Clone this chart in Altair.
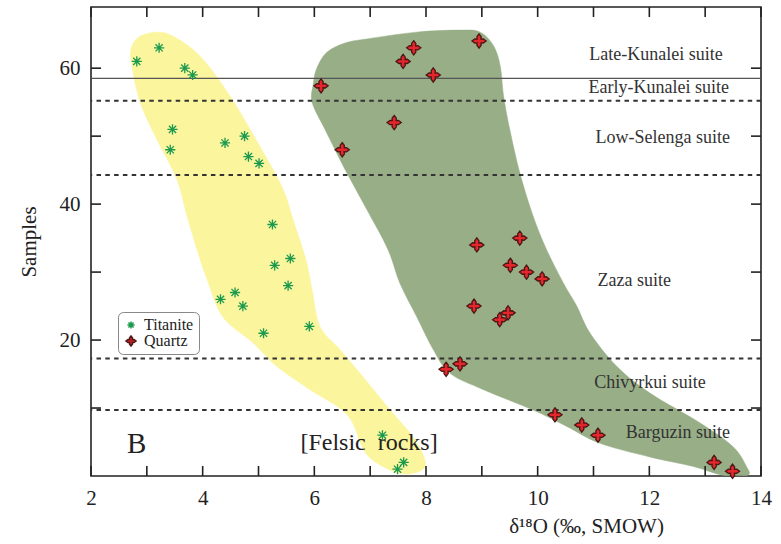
import altair as alt
import pandas as pd

# ---------------- data ----------------
titanite_x = [2.82, 3.22, 3.68, 3.82, 3.46, 3.42, 4.40, 4.75, 4.82, 5.01, 5.25,
              5.57, 5.29, 5.53, 4.32, 4.58, 4.72, 5.09, 5.91, 7.22, 7.60, 7.49]
titanite_y = [61, 63, 60, 59, 51, 48, 49, 50, 47, 46, 37,
              32, 31, 28, 26, 27, 25, 21, 22, 6, 2, 1]

quartz_x = [8.95, 7.78, 7.59, 8.13, 6.12, 7.43, 6.50, 9.68, 8.91, 9.51, 9.80,
            10.08, 8.86, 9.47, 9.32, 8.61, 8.36, 10.31, 10.79, 11.08, 13.16, 13.49]
quartz_y = [64, 63, 61, 59, 57.4, 52, 48, 35, 34, 31, 30,
            29, 25, 24, 23, 16.5, 15.7, 9, 7.5, 6, 2, 0.7]

# envelope outlines (data units, traced around each field)
yellow_x = [3.18, 3.47, 3.95, 4.49, 5.08, 5.44, 5.62, 5.85, 5.96, 6.10, 6.46, 6.91,
            7.36, 7.77, 7.98, 7.93, 7.62, 7.27, 6.91, 6.59, 5.92, 5.33, 4.90, 4.36,
            4.08, 3.90, 3.72, 3.54, 3.18, 2.88, 2.72, 2.73, 2.88]
yellow_y = [65.3, 64.7, 61.8, 55.9, 47.7, 42.2, 37.7, 31.8, 27.4, 22.0, 18.6, 14.2,
            9.7, 5.7, 2.4, 0.9, 0.3, 1.2, 3.5, 9.0, 12.7, 16.1, 19.6, 23.4,
            28.9, 33.3, 38.2, 43.6, 49.5, 55.0, 60.9, 63.2, 64.7]

green_x = [6.04, 6.22, 6.55, 6.94, 7.83, 8.61, 8.97, 9.21, 9.33, 9.39, 9.50, 9.68,
           9.92, 10.16, 10.46, 10.70, 10.94, 11.42, 12.01, 12.91, 13.50, 13.74, 13.78,
           13.54, 13.27, 12.79, 12.01, 11.12, 10.52, 9.92, 9.03, 8.43, 8.13, 7.83,
           7.53, 7.32, 6.94, 6.55, 6.19, 5.96, 5.98]
green_y = [59.9, 62.3, 63.7, 64.3, 65.3, 65.6, 65.3, 63.3, 60.3, 55.9, 51.0, 44.6,
           38.2, 33.3, 28.4, 25.0, 21.0, 16.1, 12.2, 7.8, 4.3, 1.4, 0.2,
           0.1, 0.2, 1.4, 2.8, 4.8, 7.3, 9.7, 12.7, 15.1, 18.6, 23.5,
           28.4, 33.3, 39.2, 45.1, 51.0, 55.0, 57.6]

solid_bounds = [58.5]
dashed_bounds = [55.2, 44.3, 17.3, 9.7]

suite_names = ["Late-Kunalei suite", "Early-Kunalei suite", "Low-Selenga suite",
               "Zaza suite", "Chivyrkui suite", "Barguzin suite"]
suite_x = [12.12, 12.17, 12.24, 11.73, 12.01, 12.51]
suite_y = [61.9, 57.1, 49.8, 28.7, 13.7, 6.3]

panel_letter = ["B"]
panel_letter_x = [2.82]
panel_letter_y = [4.7]
rock_label = ["[Felsic\u00a0\u00a0rocks]"]
rock_label_x = [6.98]
rock_label_y = [4.9]

x_ticks = list(range(2, 15))
x_labels = [2, 4, 6, 8, 10, 12, 14]
y_ticks = [10, 20, 30, 40, 50, 60]
y_labels = [20, 40, 60]

minerals = ["Titanite", "Quartz"]

# ---------------- layout ----------------
W, H = 670, 469
X0, X1, Y0, Y1 = 2, 14, 0, 69
FONT = "Liberation Serif"
TICK_PX = 10
tick_dx = TICK_PX * (X1 - X0) / W   # inward tick length in x data units
tick_dy = TICK_PX * (Y1 - Y0) / H   # inward tick length in y data units

xscale = alt.Scale(domain=[X0, X1], nice=False, zero=False)
yscale = alt.Scale(domain=[Y0, Y1], nice=False, zero=False)

pts = pd.DataFrame({
    "x": titanite_x + quartz_x,
    "y": titanite_y + quartz_y,
    "Mineral": ["Titanite"] * len(titanite_x) + ["Quartz"] * len(quartz_x),
})
yel = pd.DataFrame({"x": yellow_x, "y": yellow_y, "o": range(len(yellow_x))})
grn = pd.DataFrame({"x": green_x, "y": green_y, "o": range(len(green_x))})

x_enc = alt.X("x:Q", scale=xscale,
              axis=alt.Axis(values=x_labels, format="d", labelFlush=False,
                            title="δ¹⁸O (‰, SMOW)",
                            titleX=495, titleY=50, titleBaseline="middle"))
y_enc = alt.Y("y:Q", scale=yscale,
              axis=alt.Axis(values=y_labels, format="d", labelFlush=False,
                            title="Samples", titlePadding=20))

yellow_layer = alt.Chart(yel).mark_line(
    interpolate="cardinal-closed", fill="#FBF59D", stroke="#FBF59D", strokeWidth=0.5
).encode(x=x_enc, y=y_enc, order="o:Q")

green_layer = alt.Chart(grn).mark_line(
    interpolate="cardinal-closed", fill="#97AE86", stroke="#97AE86", strokeWidth=0.5
).encode(x="x:Q", y="y:Q", order="o:Q")

solid_layer = alt.Chart(pd.DataFrame({"y": solid_bounds})).mark_rule(
    color="#555", strokeWidth=1.4
).encode(y="y:Q")

dashed_layer = alt.Chart(pd.DataFrame({"y": dashed_bounds})).mark_rule(
    color="#333", strokeWidth=2, strokeDash=[4.5, 4.3]
).encode(y="y:Q")

suite_layer = alt.Chart(pd.DataFrame({"t": suite_names, "x": suite_x, "y": suite_y})).mark_text(
    font=FONT, fontSize=18, color="#333", align="center", baseline="middle"
).encode(x="x:Q", y="y:Q", text="t:N")

letter_layer = alt.Chart(pd.DataFrame({"t": panel_letter, "x": panel_letter_x,
                                       "y": panel_letter_y})).mark_text(
    font=FONT, fontSize=29, color="#222", align="center", baseline="middle"
).encode(x="x:Q", y="y:Q", text="t:N")

rock_layer = alt.Chart(pd.DataFrame({"t": rock_label, "x": rock_label_x,
                                     "y": rock_label_y})).mark_text(
    font=FONT, fontSize=24, color="#222", align="center", baseline="middle"
).encode(x="x:Q", y="y:Q", text="t:N")

# marker glyphs (asterisk drawn smaller inside the unit box than the cross)
asterisk = ("M-0.72,0L0.72,0M0,-0.72L0,0.72M-0.51,-0.51L0.51,0.51"
            "M-0.51,0.51L0.51,-0.51")
cross = ("M0,-1L0.3,-0.6L0.27,-0.27L0.6,-0.3L1,0L0.6,0.3L0.27,0.27L0.3,0.6"
         "L0,1L-0.3,0.6L-0.27,0.27L-0.6,0.3L-1,0L-0.6,-0.3L-0.27,-0.27L-0.3,-0.6Z")

leg = alt.Legend(title=None, orient="none", legendX=27, legendY=305)

points_layer = alt.Chart(pts).mark_point(filled=True, opacity=1, size=200, strokeWidth=1.3).encode(
    x="x:Q", y="y:Q",
    shape=alt.Shape("Mineral:N", scale=alt.Scale(domain=minerals, range=[asterisk, cross]), legend=leg),
    fill=alt.Fill("Mineral:N", scale=alt.Scale(domain=minerals, range=["#1B9A4E", "#E5262A"]), legend=leg),
    stroke=alt.Stroke("Mineral:N", scale=alt.Scale(domain=minerals, range=["#1B9A4E", "#4A1616"]), legend=leg),
)

# inward frame ticks (positions from the tick arrays; length converted from pixels)
bottom_df = pd.DataFrame({"x": x_ticks, "y": [Y0] * len(x_ticks),
                          "y2": [Y0 + tick_dy] * len(x_ticks)})
top_df = pd.DataFrame({"x": x_ticks, "y": [Y1] * len(x_ticks),
                       "y2": [Y1 - tick_dy] * len(x_ticks)})
left_df = pd.DataFrame({"y": y_ticks, "x": [X0] * len(y_ticks),
                        "x2": [X0 + tick_dx] * len(y_ticks)})
right_df = pd.DataFrame({"y": y_ticks, "x": [X1] * len(y_ticks),
                         "x2": [X1 - tick_dx] * len(y_ticks)})

tick_bottom = alt.Chart(bottom_df).mark_rule(color="#222", strokeWidth=1.6).encode(
    x="x:Q", y="y:Q", y2="y2:Q")
tick_top = alt.Chart(top_df).mark_rule(color="#222", strokeWidth=1.6).encode(
    x="x:Q", y="y:Q", y2="y2:Q")
tick_left = alt.Chart(left_df).mark_rule(color="#222", strokeWidth=1.6).encode(
    y="y:Q", x="x:Q", x2="x2:Q")
tick_right = alt.Chart(right_df).mark_rule(color="#222", strokeWidth=1.6).encode(
    y="y:Q", x="x:Q", x2="x2:Q")

chart = alt.layer(
    yellow_layer, green_layer, solid_layer, dashed_layer, suite_layer,
    letter_layer, rock_layer, points_layer,
    tick_bottom, tick_top, tick_left, tick_right
).properties(
    width=W, height=H,
    autosize=alt.AutoSizeParams(type="none"),
    padding={"left": 91, "top": 7, "right": 20, "bottom": 68},
).configure_view(
    stroke="#222", strokeWidth=1.6
).configure_axis(
    ticks=False, domain=False, grid=False,
    labelFont=FONT, labelFontSize=21, labelColor="#222",
    titleFont=FONT, titleFontSize=21, titleFontWeight="normal", titleColor="#222",
    labelPadding=11,
).configure_legend(
    labelFont=FONT, labelFontSize=16, labelColor="#222",
    strokeColor="#888", fillColor="white", cornerRadius=5,
    padding=5, rowPadding=0, labelOffset=5,
)

chart.save("out.html", embed_options={"renderer": "svg", "actions": False})
